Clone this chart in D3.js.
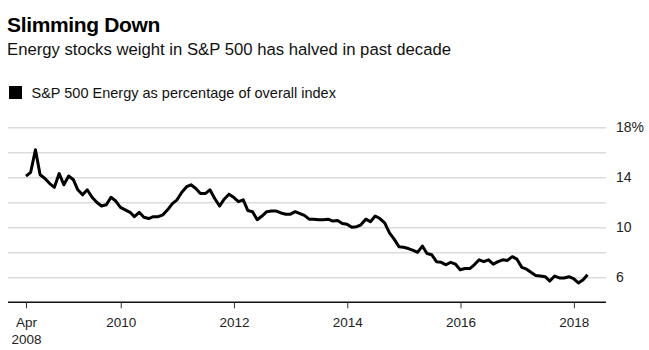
<!DOCTYPE html>
<html>
<head>
<meta charset="utf-8">
<script src="https://cdn.jsdelivr.net/npm/d3@7"></script>
<style>
  body { margin: 0; background: #fff; }
  svg { display: block; font-family: "Liberation Sans", Arial, sans-serif; }
  .gridY .domain { display: none; }
  .gridY line { stroke: #dcdcdc; stroke-width: 1.5; }
  .gridY text { font-size: 14px; fill: #222; }
  .axisX .domain { display: none; }
  .axisX line { stroke: #333; stroke-width: 1; }
  .axisX text { font-size: 13.5px; fill: #222; }
</style>
</head>
<body>
<svg id="chart"></svg>
<script>
// monthly readings, Apr 2008 .. Mar 2018 (percent of S&P 500)
const startMonth = new Date(2008, 3, 30);
const energyWeight = [
  14.1, 14.4, 16.2, 14.2, 13.9, 13.5, 13.2, 14.3, 13.4,          // 2008 Apr-Dec
  14.1, 13.8, 13.0, 12.6, 13.0, 12.4, 12.0, 11.7, 11.8, 12.4, 12.1, 11.6, // 2009
  11.4, 11.2, 10.85, 11.2, 10.8, 10.7, 10.85, 10.85, 11.0, 11.4, 11.9, 12.2, // 2010
  12.8, 13.25, 13.4, 13.1, 12.7, 12.7, 13.0, 12.3, 11.7, 12.25, 12.65, 12.4, // 2011
  12.05, 12.2, 11.35, 11.25, 10.6, 10.9, 11.25, 11.3, 11.3, 11.15, 11.05, 11.05, // 2012
  11.25, 11.1, 10.95, 10.65, 10.65, 10.6, 10.6, 10.65, 10.5, 10.55, 10.3, 10.25, // 2013
  10.0, 10.05, 10.2, 10.65, 10.45, 10.9, 10.7, 10.35, 9.55, 9.05, 8.45, 8.4, // 2014
  8.3, 8.15, 8.0, 8.5, 7.9, 7.8, 7.25, 7.2, 7.0, 7.2, 7.05, 6.6, // 2015
  6.7, 6.7, 7.0, 7.4, 7.25, 7.4, 7.05, 7.25, 7.4, 7.35, 7.65, 7.45, // 2016
  6.8, 6.65, 6.4, 6.15, 6.1, 6.05, 5.7, 6.1, 5.95, 5.95, 6.05, 5.9, // 2017
  5.55, 5.8, 6.2                                                   // 2018
];
const yTicks = [6, 8, 10, 12, 14, 16, 18];
const yLabels = ["6", "", "10", "", "14", "", "18%"];
const xTickDates = [startMonth, new Date(2010, 0, 1), new Date(2012, 0, 1), new Date(2014, 0, 1),
                    new Date(2016, 0, 1), new Date(2018, 0, 1)];
const xTickLabels = [["Apr", "2008"], ["2010"], ["2012"], ["2014"], ["2016"], ["2018"]];

const width = 649, height = 350;
const plotLeft = 8, plotRight = 606, plotTop = 127.3, plotBottom = 302.3;

const data = energyWeight.map((v, i) => ({ date: d3.timeMonth.offset(startMonth, i), value: v }));

const svg = d3.select('#chart').attr('width', width).attr('height', height);

svg.append('text')
  .attr('x', 7).attr('y', 32)
  .attr('font-size', 21).attr('font-weight', 'bold')
  .attr('letter-spacing', '-0.35')
  .attr('fill', '#000')
  .text('Slimming Down');
svg.append('text')
  .attr('x', 7).attr('y', 55)
  .attr('font-size', 16.7).attr('fill', '#111')
  .text('Energy stocks weight in S&P 500 has halved in past decade');

svg.append('rect').attr('x', 9).attr('y', 86).attr('width', 13).attr('height', 13).attr('fill', '#000');
svg.append('text')
  .attr('x', 31.5).attr('y', 98)
  .attr('font-size', 14.5).attr('fill', '#111')
  .text('S&P 500 Energy as percentage of overall index');

const xScale = d3.scaleTime()
  .domain([data[0].date, data[data.length - 1].date])
  .range([26, 587.5]);
const yScale = d3.scaleLinear().domain([4, 18]).range([plotBottom, plotTop]);

const yAxis = d3.axisRight(yScale)
  .tickValues(yTicks)
  .tickSize(-(plotRight - plotLeft))
  .tickPadding(10)
  .tickFormat((d, i) => yLabels[i]);
svg.append('g').classed('gridY', true)
  .attr('transform', 'translate(' + plotRight + ',0)')
  .call(yAxis);

svg.append('line')
  .attr('x1', plotLeft).attr('x2', plotRight)
  .attr('y1', yScale(4)).attr('y2', yScale(4))
  .attr('stroke', '#111').attr('stroke-width', 1.5);

const xAxis = d3.axisBottom(xScale)
  .tickValues(xTickDates)
  .tickSize(6)
  .tickFormat('');
const gx = svg.append('g').classed('axisX', true)
  .attr('transform', 'translate(0,' + yScale(4) + ')')
  .call(xAxis);
gx.selectAll('.tick').append('text')
  .attr('text-anchor', 'middle')
  .attr('fill', '#222')
  .selectAll('tspan')
  .data((d, i) => xTickLabels[i])
  .join('tspan')
  .attr('x', 0)
  .attr('y', (d, j) => 25 + j * 17)
  .text(d => d);

const line = d3.line()
  .x(d => xScale(d.date))
  .y(d => yScale(d.value));
svg.append('path')
  .datum(data)
  .attr('fill', 'none')
  .attr('stroke', '#000')
  .attr('stroke-width', 3)
  .attr('stroke-linejoin', 'round')
  .attr('d', line);
</script>
</body>
</html>
